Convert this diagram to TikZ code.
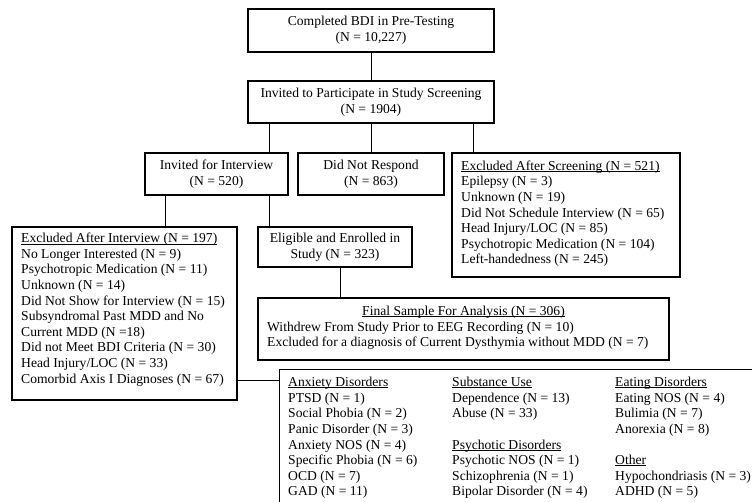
\documentclass[tikz,border=0pt]{standalone}
\usepackage{fontspec}
\setmainfont{Liberation Serif}
\newcommand{\ulx}[1]{\setbox0\hbox{#1}\rlap{\rule[-1.4pt]{\wd0}{0.55pt}}\box0}
\begin{document}
\begin{tikzpicture}[x=1pt,y=-1pt,
  txt/.style={font=\fontsize{13.6}{15.6}\selectfont, inner sep=0pt},
  box/.style={draw, line width=1.2pt, inner sep=0pt, txt, align=center},
  frame/.style={draw, line width=1.2pt, inner sep=0pt},
  ltxt/.style={txt, align=left, anchor=north west},
  conn/.style={line width=0.9pt}]
\useasboundingbox (0,0) rectangle (752,502);

% centred boxes
\node[box, minimum width=246pt, minimum height=43pt] (bdi) at (371,30.5) {Completed BDI in Pre-Testing\\(N = 10,227)};
\node[box, minimum width=246pt, minimum height=42pt] (scr) at (371,102) {Invited to Participate in Study Screening\\(N = 1904)};
\node[box, minimum width=143pt, minimum height=42pt] (inv) at (216.5,174) {Invited for Interview\\(N = 520)};
\node[box, minimum width=146pt, minimum height=42pt] (dnr) at (371,174) {Did Not Respond\\(N = 863)};
\node[box, minimum width=154pt, minimum height=40pt] (elig) at (335,247) {Eligible and Enrolled in\\Study (N = 323)};

% excluded after screening
\node[frame, minimum width=228pt, minimum height=124pt] (exs) at (566,215) {};
\node[ltxt] (exstxt) at (461,160.5) {\ulx{Excluded After Screening (N = 521)}\\
Epilepsy (N = 3)\\
Unknown (N = 19)\\
Did Not Schedule Interview (N = 65)\\
Head Injury/LOC (N = 85)\\
Psychotropic Medication (N = 104)\\
Left-handedness (N = 245)};

% excluded after interview
\node[frame, minimum width=225pt, minimum height=173pt] (exi) at (124.5,313.5) {};
\node[ltxt] (exitxt) at (21,233) {\ulx{Excluded After Interview (N = 197)}\\
No Longer Interested (N = 9)\\
Psychotropic Medication (N = 11)\\
Unknown (N = 14)\\
Did Not Show for Interview (N = 15)\\
Subsyndromal Past MDD and No\\
Current MDD (N =18)\\
Did not Meet BDI Criteria (N = 30)\\
Head Injury/LOC (N = 33)\\
Comorbid Axis I Diagnoses (N = 67)};

% final sample
\node[frame, minimum width=411pt, minimum height=62pt] (final) at (463.5,329) {};
\node[txt, anchor=north] (fintitle) at (463.5,306) {\ulx{Final Sample For Analysis (N = 306)}};
\node[ltxt] (fintxt) at (267,321.6) {Withdrew From Study Prior to EEG Recording (N = 10)\\
Excluded for a diagnosis of Current Dysthymia without MDD (N = 7)};

% comorbid diagnoses
\node[frame, minimum width=500pt, minimum height=160pt, anchor=north west] (comb) at (279,369) {};
\node[ltxt] (col1) at (288,377) {\ulx{Anxiety Disorders}\\
PTSD (N = 1)\\
Social Phobia (N = 2)\\
Panic Disorder (N = 3)\\
Anxiety NOS (N = 4)\\
Specific Phobia (N = 6)\\
OCD (N = 7)\\
GAD (N = 11)};
\node[ltxt] (col2) at (452,377) {\ulx{Substance Use}\\
Dependence (N = 13)\\
Abuse (N = 33)\\
\strut\\
\ulx{Psychotic Disorders}\\
Psychotic NOS (N = 1)\\
Schizophrenia (N = 1)\\
Bipolar Disorder (N = 4)};
\node[ltxt] (col3) at (615,377) {\ulx{Eating Disorders}\\
Eating NOS (N = 4)\\
Bulimia (N = 7)\\
Anorexia (N = 8)\\
\strut\\
\ulx{Other}\\
Hypochondriasis (N = 3)\\
ADHD (N = 5)};

% connector columns
\coordinate (xL) at (269,0);
\coordinate (xR) at (473,0);
\coordinate (xI) at (165,0);
\coordinate (xE) at (340,0);
\coordinate (yC) at (0,380);

\draw[conn] (bdi.south) -- (scr.north);
\draw[conn] (scr.south -| xL) -- (inv.north -| xL);
\draw[conn] (scr.south) -- (dnr.north);
\draw[conn] (scr.south -| xR) -- (exs.north -| xR);
\draw[conn] (inv.south -| xI) -- (exi.north -| xI);
\draw[conn] (inv.south -| xL) -- (elig.north -| xL);
\draw[conn] (elig.south -| xE) -- (final.north -| xE);
\draw[conn] (exi.east |- yC) -- (comb.west |- yC);
\end{tikzpicture}
\end{document}
